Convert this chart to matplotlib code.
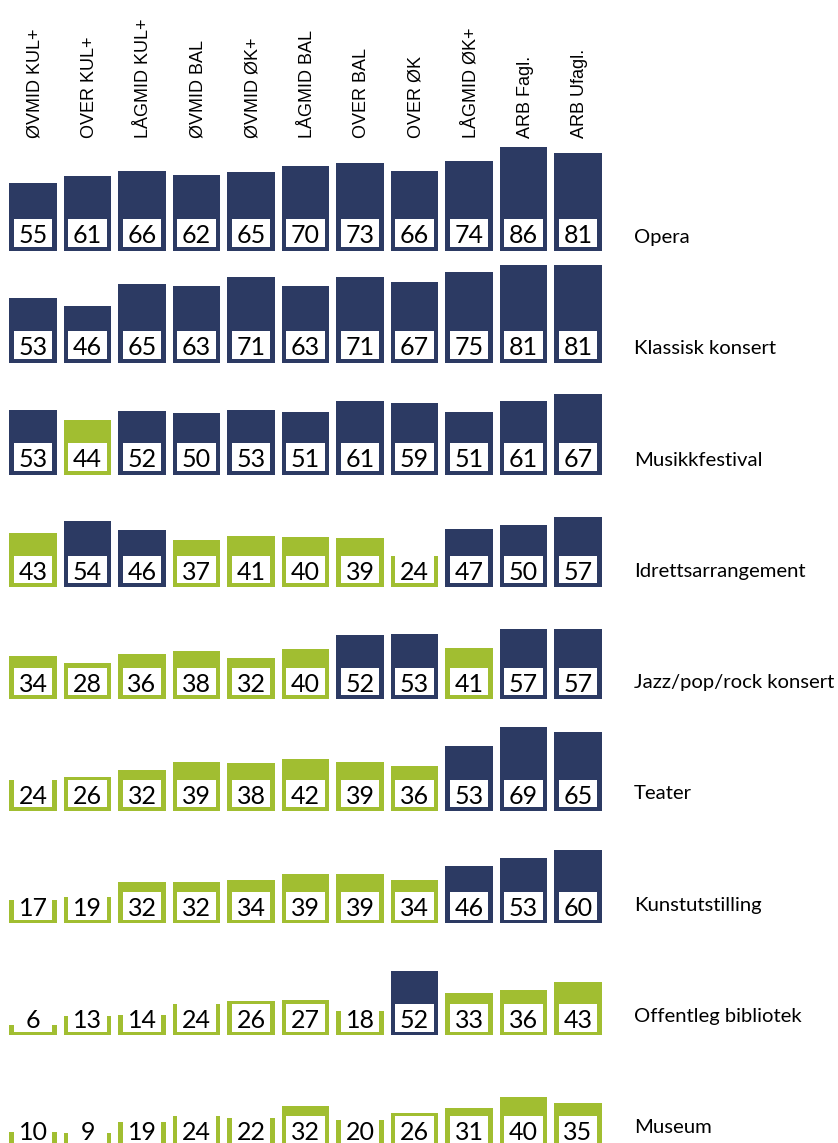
import matplotlib
matplotlib.use('Agg')
import matplotlib.pyplot as plt
import numpy as np

groups = ['ØVMID KUL+', 'OVER KUL+', 'LÅGMID KUL+', 'ØVMID BAL', 'ØVMID ØK+',
          'LÅGMID BAL', 'OVER BAL', 'OVER ØK', 'LÅGMID ØK+', 'ARB Fagl.', 'ARB Ufagl.']

activities = ['Opera', 'Klassisk konsert', 'Musikkfestival', 'Idrettsarrangement',
              'Jazz/pop/rock konsert', 'Teater', 'Kunstutstilling',
              'Offentleg bibliotek', 'Museum']

opera = [55, 61, 66, 62, 65, 70, 73, 66, 74, 86, 81]
klassisk = [53, 46, 65, 63, 71, 63, 71, 67, 75, 81, 81]
musikkfestival = [53, 44, 52, 50, 53, 51, 61, 59, 51, 61, 67]
idrett = [43, 54, 46, 37, 41, 40, 39, 24, 47, 50, 57]
jazz = [34, 28, 36, 38, 32, 40, 52, 53, 41, 57, 57]
teater = [24, 26, 32, 39, 38, 42, 39, 36, 53, 69, 65]
kunst = [17, 19, 32, 32, 34, 39, 39, 34, 46, 53, 60]
bibliotek = [6, 13, 14, 24, 26, 27, 18, 52, 33, 36, 43]
museum = [10, 9, 19, 24, 22, 32, 20, 26, 31, 40, 35]

rows = [opera, klassisk, musikkfestival, idrett, jazz, teater, kunst, bibliotek, museum]

threshold = 45
NAVY = '#2C3A63'
GREEN = '#A1BE31'

W, H = 838, 1143
fig = plt.figure(figsize=(W / 100, H / 100), dpi=100)

pitch = 54.5          # px between columns
x0 = 33               # px centre of first column
first_bottom = 250.7  # px from top, baseline of first row
row_pitch = 112.05
ax_h = 111.4          # px, ylim(-3, 93)

# row labels drift a little against the bars in the original
label_x = 634
label_first = 243.3
label_pitch = 111.2

left = (x0 - 0.5 * pitch) / W
width = 11 * pitch / W
x = np.arange(len(groups))

for k, (name, vals) in enumerate(zip(activities, rows)):
    bottom_px = first_bottom + k * row_pitch
    ax = fig.add_axes([left, (H - bottom_px) / H, width, ax_h / H])
    ax.set_xlim(-0.5, 10.5)
    ax.set_ylim(-3, 93)
    ax.axis('off')

    vals = np.array(vals)
    colors = [NAVY if v >= threshold else GREEN for v in vals]
    ax.bar(x, vals + 3, bottom=-3, width=0.88, color=colors, linewidth=0)
    ax.bar(x, 24, bottom=0, width=0.71, color='white', linewidth=0)
    for xi, v in zip(x, vals):
        ax.text(xi, 3.3, str(v), ha='center', va='baseline', fontsize=18,
                family='Lato', color='black')

    fig.text(label_x / W, 1 - (label_first + k * label_pitch) / H, name,
             ha='left', va='baseline', fontsize=14.6, family='Lato', color='black')

    if k == 0:
        for xi, g in zip(x, groups):
            ax.text(xi + 0.03, 1.01, g, rotation=90, ha='center', va='bottom',
                    fontsize=13, family='Liberation Sans',
                    transform=ax.get_xaxis_transform(), clip_on=False)

fig.savefig('out.png', dpi=100)
